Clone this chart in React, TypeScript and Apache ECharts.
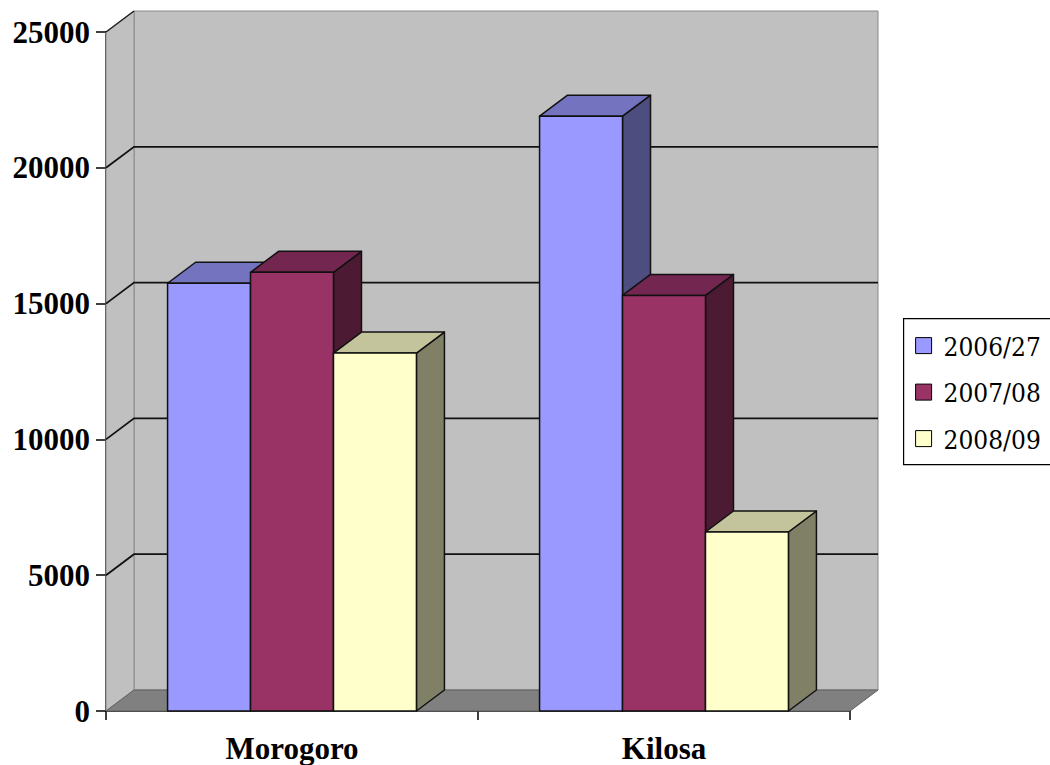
import React, { useEffect, useRef } from "react";
import * as echarts from "echarts";

const categories = ["Morogoro", "Kilosa"];
const seriesNames = ["2006/27", "2007/08", "2008/09"];
const values2006 = [15750, 21900];
const values2007 = [16150, 15300];
const values2008 = [13180, 6590];
const yTickValues = [0, 5000, 10000, 15000, 20000, 25000];

const FRONT = ["#9999ff", "#993366", "#ffffcc"];
const TOP = ["#7373bf", "#732650", "#c4c49c"];
const SIDE = ["#4d4d80", "#4d1a33", "#808066"];
const DX = 28;
const DY = -21;
const FONT = "'Liberation Serif', 'Times New Roman', Times, serif";
const LEGEND_FONT = "'DejaVu Serif Condensed', 'DejaVu Serif', serif";

export default function App() {
  const ref = useRef<HTMLDivElement>(null);
  useEffect(() => {
    const chart = echarts.init(ref.current!, null, { renderer: "svg" });
    const allValues = [values2006, values2007, values2008];
    const yMax = yTickValues[yTickValues.length - 1];

    const bgSeries: any = {
      type: "custom",
      silent: true,
      clip: false,
      z: 1,
      data: [[0, 0]],
      encode: { x: 0, y: 1 },
      renderItem: (params: any, api: any) => {
        const cs = params.coordSys;
        const L = cs.x;
        const R = cs.x + cs.width;
        const B = api.coord([0, 0])[1];
        const T = api.coord([0, yMax])[1];
        const children: any[] = [];
        children.push({
          type: "polygon",
          shape: { points: [[L + DX, T + DY], [R + DX, T + DY], [R + DX, B + DY], [L + DX, B + DY]] },
          style: { fill: "#c0c0c0", stroke: "#8a8a8a", lineWidth: 1 },
        });
        children.push({
          type: "polygon",
          shape: { points: [[L, T], [L + DX, T + DY], [L + DX, B + DY], [L, B]] },
          style: { fill: "#c0c0c0", stroke: "#8a8a8a", lineWidth: 1 },
        });
        children.push({
          type: "polygon",
          shape: { points: [[L, B], [L + DX, B + DY], [R + DX, B + DY], [R, B]] },
          style: { fill: "#808080", stroke: "#606060", lineWidth: 1 },
        });
        yTickValues.forEach((v) => {
          if (v === 0) return;
          const y = api.coord([0, v])[1];
          if (v === yMax) {
            children.push({
              type: "line",
              shape: { x1: L, y1: y, x2: L + DX, y2: y + DY },
              style: { stroke: "#222", lineWidth: 1.5 },
            });
          } else {
            children.push({
              type: "polyline",
              shape: { points: [[L, y], [L + DX, y + DY], [R + DX, y + DY]] },
              style: { stroke: "#111", lineWidth: 1.8, fill: "none" },
            });
          }
        });
        return { type: "group", children };
      },
    };

    const barSeries = allValues.map((vals, s) => ({
      type: "custom",
      name: seriesNames[s],
      clip: false,
      z: 2,
      itemStyle: { color: FRONT[s], borderColor: "#000", borderWidth: 1 },
      data: vals.map((v, i) => [i, v]),
      encode: { x: 0, y: 1 },
      renderItem: (params: any, api: any) => {
        const idx = api.value(0);
        const val = api.value(1);
        const top = api.coord([idx, val]);
        const yBase = api.coord([idx, 0])[1];
        const band = api.size([1, 0])[0];
        const barW = band * 0.223;
        const x0 = top[0] - 1.5 * barW + s * barW;
        const x1 = x0 + barW;
        const yT = top[1];
        const stroke = { stroke: "#111", lineWidth: 1.5, lineJoin: "round" };
        return {
          type: "group",
          children: [
            {
              type: "polygon",
              shape: { points: [[x1, yT], [x1 + DX, yT + DY], [x1 + DX, yBase + DY], [x1, yBase]] },
              style: { fill: SIDE[s], ...stroke },
            },
            {
              type: "polygon",
              shape: { points: [[x0, yT], [x0 + DX, yT + DY], [x1 + DX, yT + DY], [x1, yT]] },
              style: { fill: TOP[s], ...stroke },
            },
            {
              type: "polygon",
              shape: { points: [[x0, yT], [x1, yT], [x1, yBase], [x0, yBase]] },
              style: { fill: FRONT[s], ...stroke },
            },
          ],
        };
      },
    }));

    // Legend drawn as graphic elements (box, swatches, labels)
    const legendLeft = 903;
    const legendTop = 318;
    const legendRowGap = 46.5;
    const legendChildren: any[] = [
      {
        type: "rect",
        shape: { x: 0, y: 0, width: 170, height: 146 },
        style: { fill: "#fff", stroke: "#000", lineWidth: 1.2 },
      },
    ];
    seriesNames.forEach((n, i) => {
      const cy = 27 + i * legendRowGap;
      legendChildren.push({
        type: "rect",
        shape: { x: 12, y: cy - 8, width: 16, height: 16 },
        style: { fill: FRONT[i], stroke: "#000", lineWidth: 1 },
      });
      legendChildren.push({
        type: "text",
        x: 40,
        y: cy + 1,
        style: {
          text: n,
          fontFamily: LEGEND_FONT,
          fontWeight: "normal",
          fontSize: 26,
          fill: "#000",
          verticalAlign: "middle",
          align: "left",
        },
      });
    });

    chart.setOption({
      animation: false,
      backgroundColor: "#ffffff",
      textStyle: { fontFamily: FONT, color: "#000" },
      grid: { left: 106, top: 32, width: 744, height: 679, containLabel: false },
      graphic: [
        {
          type: "group",
          left: legendLeft,
          top: legendTop,
          z: 10,
          children: legendChildren,
        },
      ],
      xAxis: {
        type: "category",
        data: categories,
        boundaryGap: true,
        axisLine: { show: true, lineStyle: { color: "#000", width: 1.5 } },
        axisTick: { show: true, length: 9, lineStyle: { color: "#000", width: 1.5 } },
        axisLabel: { fontFamily: FONT, fontSize: 31, fontWeight: "bold", color: "#000", margin: 22 },
        splitLine: { show: false },
      },
      yAxis: {
        type: "value",
        min: 0,
        max: yMax,
        interval: 5000,
        axisLine: { show: true, lineStyle: { color: "#000", width: 1.5 } },
        axisTick: { show: true, length: 10, lineStyle: { color: "#000", width: 1.5 } },
        axisLabel: {
          fontFamily: FONT,
          fontSize: 31,
          fontWeight: "bold",
          color: "#000",
          margin: 16,
          formatter: (v: number) => String(v),
        },
        splitLine: { show: false },
      },
      series: [bgSeries, ...barSeries],
    });
    return () => chart.dispose();
  }, []);
  return (
    <div
      ref={ref}
      style={{ position: "fixed", left: 0, top: 0, width: 1050, height: 765, background: "#fff" }}
    />
  );
}
